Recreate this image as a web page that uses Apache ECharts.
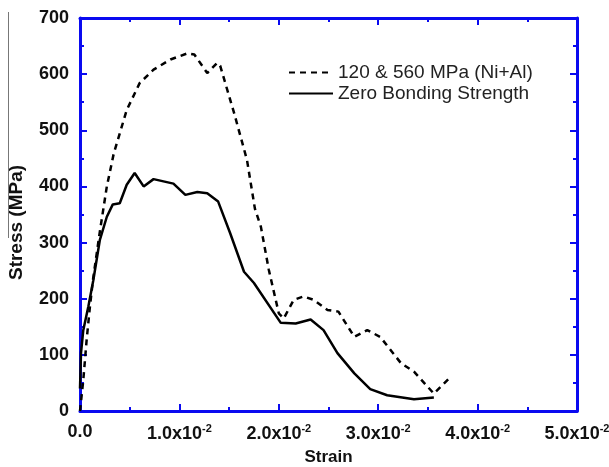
<!DOCTYPE html>
<html lang="en" style="height: 100%">
<head>
<meta charset="utf-8">
<title>Stress-Strain</title>
</head>
<body style="height: 100%; margin: 0; background: #fff">
<div id="container" style="height: 100%"></div>
<script type="text/javascript" src="https://cdn.jsdelivr.net/npm/echarts/dist/echarts.min.js"></script>
<script type="text/javascript">

var strainBonded = [0, 0.00033, 0.00067, 0.0010, 0.0013, 0.0020, 0.0027, 0.0034, 0.0047, 0.0060, 0.0074, 0.0091, 0.0108, 0.0115, 0.0128, 0.0138, 0.0141, 0.0155, 0.0168, 0.0176, 0.0182, 0.0190, 0.0200, 0.0205, 0.0215, 0.0225, 0.0235, 0.0249, 0.0260, 0.0276, 0.0289, 0.0302, 0.0323, 0.0336, 0.0356, 0.0373];
var stressBonded = [0, 55, 127, 186, 233, 320, 400, 459, 536, 584, 608, 626, 637, 635, 602, 620, 615, 531, 447, 360, 328, 251, 174, 165, 198, 204, 198, 180, 177, 132, 144, 132, 85, 70, 31, 61];

var strainZero = [0, 0.0001, 0.00033, 0.00084, 0.00134, 0.0020, 0.0027, 0.0033, 0.0040, 0.0047, 0.0055, 0.0064, 0.0074, 0.0094, 0.0106, 0.0118, 0.0128, 0.0139, 0.0151, 0.0165, 0.0175, 0.0202, 0.0217, 0.0232, 0.0245, 0.0259, 0.0276, 0.0292, 0.0309, 0.0336, 0.0356];
var stressZero = [40, 103, 144, 186, 233, 305, 346, 368, 370, 403, 424, 400, 413, 405, 385, 390, 388, 373, 317, 248, 228, 157, 156, 163, 144, 103, 67, 39, 28, 21, 24];

var seriesNames = ['120 & 560 MPa (Ni+Al)', 'Zero Bonding Strength'];

function pairs(xs, ys) {
    return xs.map(function (x, i) { return [x, ys[i]]; });
}

var dom = document.getElementById('container');
var myChart = echarts.init(dom, null, { width: 609, height: 467 });

var blue = '#0a0af0';
var font = '"Liberation Sans", Arial, sans-serif';

function xAxisBase(pos, showLabel) {
    return {
        type: 'value',
        position: pos,
        min: 0,
        max: 0.05,
        interval: 0.01,
        splitLine: { show: false },
        axisLine: { show: true, onZero: false, lineStyle: { color: blue, width: 3 } },
        axisTick: { show: true, inside: true, length: 7, lineStyle: { color: blue, width: 2 } },
        minorTick: { show: true, splitNumber: 2, length: 4, lineStyle: { color: blue, width: 2 } },
        axisLabel: {
            show: showLabel,
            margin: 12,
            fontFamily: font,
            color: '#111',
            formatter: function (v) {
                if (v === 0) return '{a|0.0}';
                return '{a|' + (v * 100).toFixed(1) + 'x10}{s|-2}';
            },
            rich: {
                a: { fontSize: 18, fontWeight: 'bold', fontFamily: font, color: '#111' },
                s: { fontSize: 11, fontWeight: 'bold', fontFamily: font, color: '#111', padding: [0, 0, 12, 0] }
            }
        }
    };
}

function yAxisBase(pos, showLabel) {
    return {
        type: 'value',
        position: pos,
        min: 0,
        max: 700,
        interval: 100,
        splitLine: { show: false },
        axisLine: { show: true, onZero: false, lineStyle: { color: blue, width: 3 } },
        axisTick: { show: true, inside: true, length: 7, lineStyle: { color: blue, width: 2 } },
        minorTick: { show: true, splitNumber: 2, length: 4, lineStyle: { color: blue, width: 2 } },
        axisLabel: {
            show: showLabel,
            margin: 11,
            fontSize: 18,
            fontWeight: 'bold',
            fontFamily: font,
            color: '#111'
        }
    };
}

var xBottom = xAxisBase('bottom', true);
xBottom.name = 'Strain';
xBottom.nameLocation = 'middle';
xBottom.nameGap = 38;
xBottom.nameTextStyle = { fontSize: 17, fontWeight: 'bold', fontFamily: font, color: '#111' };

var yLeft = yAxisBase('left', true);
yLeft.name = 'Stress (MPa)';
yLeft.nameLocation = 'middle';
yLeft.nameGap = 54;
yLeft.nameTextStyle = { fontSize: 19, fontWeight: 'bold', fontFamily: font, color: '#111', padding: [0, 16, 0, 0] };

var option = {
    animation: false,
    backgroundColor: '#fff',
    grid: { left: 80, right: 32, top: 18, bottom: 56, containLabel: false, outerBoundsMode: 'none' },
    xAxis: [xBottom, xAxisBase('top', false)],
    yAxis: [yLeft, yAxisBase('right', false)],
    legend: {
        orient: 'vertical',
        left: 283,
        top: 58,
        itemWidth: 44,
        itemHeight: 12,
        itemGap: 2,
        itemStyle: { color: 'rgba(0,0,0,0)', borderWidth: 0 },
        textStyle: { fontSize: 19, fontFamily: font, color: '#222' },
        data: seriesNames
    },
    graphic: [{
        type: 'line',
        shape: { x1: 8.5, y1: 12, x2: 8.5, y2: 238 },
        style: { stroke: '#777', lineWidth: 1 }
    }],
    series: [
        {
            name: seriesNames[0],
            type: 'line',
            symbol: 'none',
            data: pairs(strainBonded, stressBonded),
            lineStyle: { color: '#000', width: 2.5, type: [6, 5] },
            itemStyle: { color: '#000' }
        },
        {
            name: seriesNames[1],
            type: 'line',
            symbol: 'none',
            data: pairs(strainZero, stressZero),
            lineStyle: { color: '#000', width: 2.5 },
            itemStyle: { color: '#000' }
        }
    ]
};

myChart.setOption(option);
window.addEventListener('resize', myChart.resize);
</script>
</body>
</html>
